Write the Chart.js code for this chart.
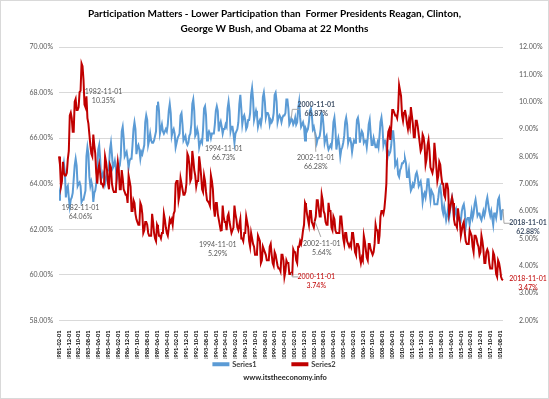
<!DOCTYPE html>
<html>
<head>
<meta charset="utf-8">
<script src="https://cdn.jsdelivr.net/npm/chart.js@4.4.1/dist/chart.umd.min.js"></script>
<style>
  html, body { margin: 0; padding: 0; background: #fff; }
</style>
</head>
<body>
<canvas id="myChart" width="549" height="399"></canvas>
<script>
// meses 1981-02 .. 2018-11
const fechas = [];
for (let y = 1981; y <= 2018; y++) {
  for (let m = 1; m <= 12; m++) {
    if ((y === 1981 && m < 2) || (y === 2018 && m > 11)) continue;
    fechas.push(y + "-" + String(m).padStart(2, "0") + "-01");
  }
}

// Series1: participacion (eje izquierdo, %)
const serie1 = [
  63.3, 63.7, 63.9, 64.3, 64.6, 64.9, 64.5, 63.4, 63.8, 63.9, 63.4,
  63.0, 63.3, 63.4, 63.6, 64.2, 64.8, 65.1, 64.8, 63.9, 64.0, 64.06, 63.9,
  63.2, 63.3, 63.3, 63.5, 63.7, 65.2, 65.6, 65.3, 64.3, 63.9, 64.1, 63.9,
  63.2, 63.6, 63.7, 64.0, 64.5, 65.5, 65.7, 65.1, 64.2, 64.3, 64.5, 64.4,
  64.0, 64.2, 64.5, 64.6, 64.8, 65.5, 65.8, 65.3, 64.7, 64.8, 65.0, 64.7,
  64.2, 64.5, 64.7, 64.8, 65.2, 66.3, 66.5, 66.0, 65.2, 65.3, 65.4, 65.1,
  64.7, 65.0, 65.1, 65.1, 65.7, 66.4, 66.7, 66.4, 65.3, 65.6, 65.7, 65.5,
  65.1, 65.4, 65.3, 65.5, 65.7, 66.7, 67.0, 66.8, 65.7, 65.9, 66.2, 65.9,
  65.8, 65.8, 65.9, 66.1, 66.3, 67.4, 67.6, 67.2, 66.2, 66.4, 66.6, 66.3,
  66.2, 66.3, 66.4, 66.3, 66.6, 67.2, 67.5, 67.1, 66.1, 66.3, 66.4, 66.2,
  65.6, 65.8, 66.0, 66.1, 66.2, 67.0, 67.1, 66.6, 65.9, 66.0, 66.1, 65.8,
  65.7, 65.8, 66.1, 66.2, 66.6, 67.5, 67.7, 67.2, 66.1, 66.2, 66.4, 66.2,
  65.6, 65.8, 65.9, 65.8, 66.4, 67.3, 67.4, 67.0, 65.9, 66.2, 66.3, 66.2,
  66.0, 66.2, 66.2, 66.2, 66.6, 67.2, 67.4, 67.2, 66.3, 66.6, 66.73, 66.5,
  66.2, 66.4, 66.4, 66.6, 66.5, 67.3, 67.6, 67.2, 66.3, 66.5, 66.5, 66.2,
  65.8, 66.2, 66.3, 66.4, 66.7, 67.5, 67.9, 67.3, 66.6, 66.9, 67.0, 66.8,
  66.4, 66.5, 66.8, 66.8, 67.1, 67.9, 68.2, 67.7, 66.8, 67.0, 67.2, 67.0,
  66.5, 66.7, 66.8, 66.6, 66.9, 67.8, 68.0, 67.6, 66.9, 67.1, 67.1, 67.0,
  66.6, 66.8, 66.7, 66.8, 67.1, 67.9, 68.0, 67.6, 66.7, 66.9, 67.0, 66.9,
  66.7, 66.9, 67.0, 67.0, 67.1, 67.7, 67.7, 67.3, 66.6, 66.7, 66.87, 66.8,
  66.6, 66.7, 66.9, 66.6, 66.7, 67.3, 67.6, 66.9, 66.5, 66.6, 66.7, 66.5,
  65.9, 66.4, 66.3, 66.4, 66.7, 67.2, 67.3, 67.0, 66.4, 66.5, 66.28, 66.1,
  65.8, 66.0, 66.0, 66.1, 66.4, 67.1, 67.0, 66.5, 65.8, 66.0, 66.1, 65.7,
  65.5, 65.6, 65.7, 65.6, 66.0, 66.7, 66.9, 66.4, 65.5, 65.8, 66.0, 65.7,
  65.2, 65.5, 65.6, 65.8, 66.1, 66.7, 66.9, 66.6, 65.8, 66.0, 66.0, 65.8,
  65.4, 65.7, 65.9, 65.8, 66.1, 66.8, 66.9, 66.6, 65.8, 66.1, 66.3, 66.2,
  65.8, 65.9, 65.9, 65.6, 66.0, 66.6, 66.8, 66.2, 65.7, 65.7, 66.0, 65.8,
  65.6, 65.6, 65.8, 65.6, 66.1, 66.7, 66.9, 66.5, 65.7, 65.9, 65.9, 65.6,
  65.1, 65.4, 65.3, 65.4, 65.7, 66.3, 66.3, 65.8, 64.8, 64.9, 65.0, 64.4,
  64.3, 64.6, 64.7, 64.9, 64.9, 65.0, 65.1, 64.9, 64.3, 64.3, 64.6, 64.1,
  63.7, 63.8, 64.0, 63.9, 64.1, 64.4, 64.5, 64.3, 63.9, 64.0, 64.1, 63.8,
  63.2, 63.5, 63.6, 63.4, 63.7, 64.2, 64.2, 63.7, 63.3, 63.7, 63.6, 63.5,
  63.1, 63.1, 63.1, 63.1, 63.4, 63.8, 63.9, 63.5, 62.9, 62.7, 63.0, 62.7,
  62.4, 62.6, 62.9, 62.5, 62.8, 63.2, 63.4, 63.1, 62.5, 62.8, 62.9, 62.5,
  62.4, 62.5, 62.5, 62.4, 62.8, 63.0, 63.1, 62.8, 62.1, 62.4, 62.5, 62.5,
  62.2, 62.5, 62.8, 62.5, 62.7, 63.1, 63.3, 63.0, 62.6, 62.7, 62.7, 62.5,
  62.4, 62.6, 62.8, 62.6, 62.8, 63.2, 63.4, 63.1, 62.8, 62.6, 62.8, 62.5,
  62.2, 62.7, 62.7, 62.5, 62.8, 63.3, 63.4, 62.9, 62.4, 62.8, 62.88
];

// Series2: desempleo (eje derecho, %)
const serie2 = [
  8.0, 7.7, 6.9, 7.1, 7.8, 7.4, 7.3, 7.3, 7.4, 7.9, 8.2,
  9.5, 9.6, 9.4, 8.9, 8.9, 10.0, 10.1, 9.7, 9.7, 9.8, 10.35, 10.4,
  11.4, 11.3, 10.8, 9.9, 9.8, 10.2, 9.4, 9.2, 8.8, 8.4, 8.1, 8.0,
  8.8, 8.4, 8.1, 7.4, 7.0, 7.5, 7.7, 7.4, 7.0, 7.0, 6.9, 7.0,
  8.0, 7.8, 7.5, 7.0, 6.8, 7.7, 7.6, 7.0, 6.8, 6.7, 6.7, 6.7,
  7.4, 7.8, 7.5, 6.8, 6.8, 7.5, 7.2, 6.8, 6.7, 6.6, 6.6, 6.3,
  7.3, 7.1, 6.9, 6.0, 6.0, 6.4, 6.3, 5.9, 5.7, 5.6, 5.5, 5.5,
  6.3, 6.2, 5.9, 5.2, 5.3, 5.6, 5.6, 5.5, 5.2, 5.1, 5.1, 5.1,
  5.9, 5.6, 5.2, 5.0, 4.9, 5.5, 5.4, 5.1, 5.1, 5.0, 5.2, 5.2,
  5.9, 5.7, 5.4, 5.2, 5.1, 5.4, 5.7, 5.6, 5.7, 5.5, 5.9, 6.0,
  7.0, 7.1, 7.1, 6.4, 6.6, 7.2, 7.0, 6.8, 6.6, 6.6, 6.7, 7.0,
  8.1, 8.0, 7.7, 7.1, 7.2, 8.2, 7.9, 7.5, 7.3, 6.9, 7.1, 7.1,
  8.0, 7.7, 7.3, 6.8, 6.7, 7.3, 7.1, 6.7, 6.4, 6.4, 6.3, 6.2,
  7.3, 7.1, 6.8, 6.1, 5.8, 6.3, 6.3, 5.9, 5.7, 5.5, 5.29, 5.3,
  6.2, 5.8, 5.6, 5.6, 5.3, 5.8, 5.9, 5.6, 5.4, 5.2, 5.3, 5.4,
  6.2, 5.9, 5.7, 5.4, 5.3, 5.5, 5.7, 5.0, 5.0, 4.9, 5.2, 5.2,
  5.8, 5.6, 5.4, 4.9, 4.7, 5.2, 5.0, 4.8, 4.7, 4.4, 4.4, 4.5,
  5.1, 5.0, 4.9, 4.1, 4.2, 4.7, 4.6, 4.5, 4.4, 4.2, 4.2, 4.2,
  4.7, 4.8, 4.4, 4.1, 4.0, 4.5, 4.4, 4.2, 4.0, 3.9, 3.9, 3.8,
  4.4, 4.4, 4.2, 3.6, 3.8, 4.2, 4.1, 4.1, 3.7, 3.7, 3.74, 3.7,
  4.6, 4.5, 4.5, 4.2, 4.1, 4.7, 4.7, 4.9, 4.8, 5.0, 5.3, 5.5,
  6.3, 6.2, 5.9, 5.7, 5.5, 6.0, 6.0, 5.6, 5.5, 5.4, 5.64, 5.8,
  6.4, 6.4, 6.1, 5.8, 5.8, 6.6, 6.4, 6.0, 5.9, 5.6, 5.5, 5.5,
  6.3, 6.0, 6.0, 5.4, 5.3, 5.8, 5.7, 5.3, 5.2, 5.2, 5.2, 5.2,
  5.8, 5.8, 5.4, 5.0, 4.8, 5.2, 5.2, 4.9, 4.8, 4.7, 4.8, 4.7,
  5.2, 5.2, 4.9, 4.5, 4.4, 4.8, 4.8, 4.7, 4.3, 4.1, 4.3, 4.2,
  5.1, 4.9, 4.6, 4.3, 4.2, 4.8, 4.8, 4.6, 4.5, 4.4, 4.5, 4.8,
  5.5, 5.3, 5.3, 4.8, 5.1, 5.8, 6.0, 6.0, 5.9, 6.1, 6.5, 7.0,
  8.5, 8.9, 9.0, 8.6, 9.1, 9.7, 9.7, 9.6, 9.5, 9.5, 9.4, 9.7,
  10.6, 10.4, 10.2, 9.5, 9.3, 9.6, 9.7, 9.5, 9.2, 9.0, 9.3, 9.1,
  9.8, 9.5, 9.2, 8.7, 8.7, 9.3, 9.3, 9.1, 8.8, 8.5, 8.2, 8.3,
  8.8, 8.7, 8.4, 7.7, 7.9, 8.4, 8.6, 8.2, 7.6, 7.5, 7.4, 7.6,
  8.5, 8.1, 7.6, 7.1, 7.3, 7.8, 7.7, 7.3, 7.0, 7.0, 6.6, 6.5,
  7.0, 7.0, 6.8, 5.9, 6.1, 6.3, 6.5, 6.3, 5.7, 5.5, 5.5, 5.4,
  6.1, 5.8, 5.6, 5.1, 5.3, 5.5, 5.6, 5.2, 4.9, 4.8, 4.8, 4.8,
  5.3, 5.2, 5.1, 4.7, 4.5, 5.1, 5.1, 5.0, 4.8, 4.7, 4.4, 4.5,
  5.1, 4.9, 4.6, 4.1, 4.1, 4.5, 4.6, 4.5, 4.1, 3.9, 3.9, 3.9,
  4.5, 4.4, 4.1, 3.7, 3.6, 4.2, 4.1, 3.9, 3.6, 3.5, 3.47
];

const titulo = [
  "Participation Matters - Lower Participation than  Former Presidents Reagan, Clinton,",
  "George W Bush, and Obama at 22 Months"
];

const gris = "#595959";
const navy = "#44546A";
const rojo = "#C00000";

// etiquetas de datos (serie 0 = Series1, 1 = Series2)
const notas = [
  { serie: 1, fecha: "1982-11-01", dx: 24, dy: 0, color: gris },
  { serie: 0, fecha: "1982-11-01", dx: 1, dy: 25, color: gris },
  { serie: 0, fecha: "1994-11-01", dx: 3, dy: 27, color: gris },
  { serie: 1, fecha: "1994-11-01", dx: -3, dy: 14, color: gris },
  { serie: 0, fecha: "2000-11-01", dx: 25, dy: -14, color: navy, bold: true, guia: [[1, -9], [8, -9]] },
  { serie: 1, fecha: "2000-11-01", dx: 25, dy: 4, color: rojo, guia: [[1, 4], [7, 4]] },
  { serie: 0, fecha: "2002-11-01", dx: 1, dy: 26, color: gris, guia: [[1, 20]] },
  { serie: 1, fecha: "2002-11-01", dx: 7, dy: 23, color: gris, guia: [[6, 16]] },
  { serie: 0, fecha: "2018-11-01", dx: 25, dy: 13, color: navy, bold: true, guia: [[1, 14], [8, 14]] },
  { serie: 1, fecha: "2018-11-01", dx: 25, dy: -2, color: rojo }
];

const etiquetas = {
  id: "etiquetas",
  afterDatasetsDraw(chart) {
    const c = chart.ctx;
    c.save();
    notas.forEach(n => {
      const i = fechas.indexOf(n.fecha);
      const p = chart.getDatasetMeta(n.serie).data[i];
      const v = chart.data.datasets[n.serie].data[i];
      if (n.guia) {
        c.strokeStyle = "#A6A6A6";
        c.lineWidth = 1;
        c.beginPath();
        c.moveTo(p.x, p.y);
        n.guia.forEach(g => c.lineTo(p.x + g[0], p.y + g[1]));
        c.stroke();
      }
      c.font = (n.bold ? "bold " : "") + "7px Lato";
      c.fillStyle = n.color;
      c.textAlign = "center";
      c.textBaseline = "middle";
      c.fillText(n.fecha, p.x + n.dx, p.y + n.dy);
      c.fillText(v.toFixed(2) + "%", p.x + n.dx, p.y + n.dy + 9);
    });
    c.restore();
  }
};

const marco = {
  id: "marco",
  beforeDraw(chart) {
    const c = chart.ctx;
    c.save();
    c.fillStyle = "#fff";
    c.fillRect(0, 0, chart.width, chart.height);
    c.restore();
  },
  afterDraw(chart) {
    const c = chart.ctx;
    c.save();
    c.strokeStyle = "#D9D9D9";
    c.lineWidth = 1;
    c.strokeRect(0.5, 0.5, chart.width - 1, chart.height - 1);
    c.font = "bold 7.5px Lato";
    c.fillStyle = "#262626";
    c.textAlign = "center";
    c.textBaseline = "middle";
    c.fillText("www.itstheeconomy.info", 285, 378);
    c.restore();
  }
};

const ctx = document.getElementById("myChart");
const fmt = v => v.toFixed(2) + "%";

new Chart(ctx, {
  type: "line",
  data: {
    labels: fechas,
    datasets: [
      { label: "Series1", data: serie1, borderColor: "#5B9BD5", backgroundColor: "#5B9BD5",
        borderWidth: 2, pointRadius: 0, yAxisID: "y", order: 2 },
      { label: "Series2", data: serie2, borderColor: rojo, backgroundColor: rojo,
        borderWidth: 2, pointRadius: 0, yAxisID: "y1", order: 1 }
    ]
  },
  options: {
    responsive: false,
    animation: false,
    layout: { padding: { bottom: 21 } },
    plugins: {
      title: {
        display: true, text: titulo, color: "#000",
        font: { family: "Lato", size: 10, weight: "bold", lineHeight: 1.5 },
        padding: { top: 6, bottom: 11 }
      },
      legend: {
        position: "bottom",
        labels: {
          boxWidth: 15, boxHeight: 2, padding: 2, color: "#404040",
          font: { family: "Lato", size: 7.5, weight: "bold" },
          generateLabels: chart => {
            const items = Chart.defaults.plugins.legend.labels.generateLabels(chart)
              .sort((a, b) => a.datasetIndex - b.datasetIndex);
            items[0].text += "\u2003\u2003\u2003\u2003\u2003\u2003";
            return items;
          }
        }
      },
      tooltip: { enabled: false }
    },
    scales: {
      x: {
        grid: { display: false },
        border: { display: false },
        ticks: {
          autoSkip: false, maxRotation: 90, minRotation: 90, padding: 2,
          color: "#000", font: { family: "Lato", size: 5.6, weight: "bold" },
          callback: (v, i) => (i % 10 === 0 ? fechas[i] : null)
        },
        afterFit: s => { s.height = 38; }
      },
      y: {
        position: "left", min: 58, max: 70,
        ticks: { stepSize: 2, callback: fmt, color: gris, padding: 6,
          font: { family: "Lato", size: 7 } },
        grid: { color: "#D9D9D9", drawTicks: false },
        border: { display: false },
        afterFit: s => { s.width = 59; }
      },
      y1: {
        position: "right", min: 2, max: 12,
        ticks: { stepSize: 1, callback: fmt, color: gris, padding: 8,
          font: { family: "Lato", size: 7 } },
        grid: { display: false },
        border: { display: false },
        afterFit: s => { s.width = 46; }
      }
    }
  },
  plugins: [etiquetas, marco]
});
</script>
</body>
</html>
